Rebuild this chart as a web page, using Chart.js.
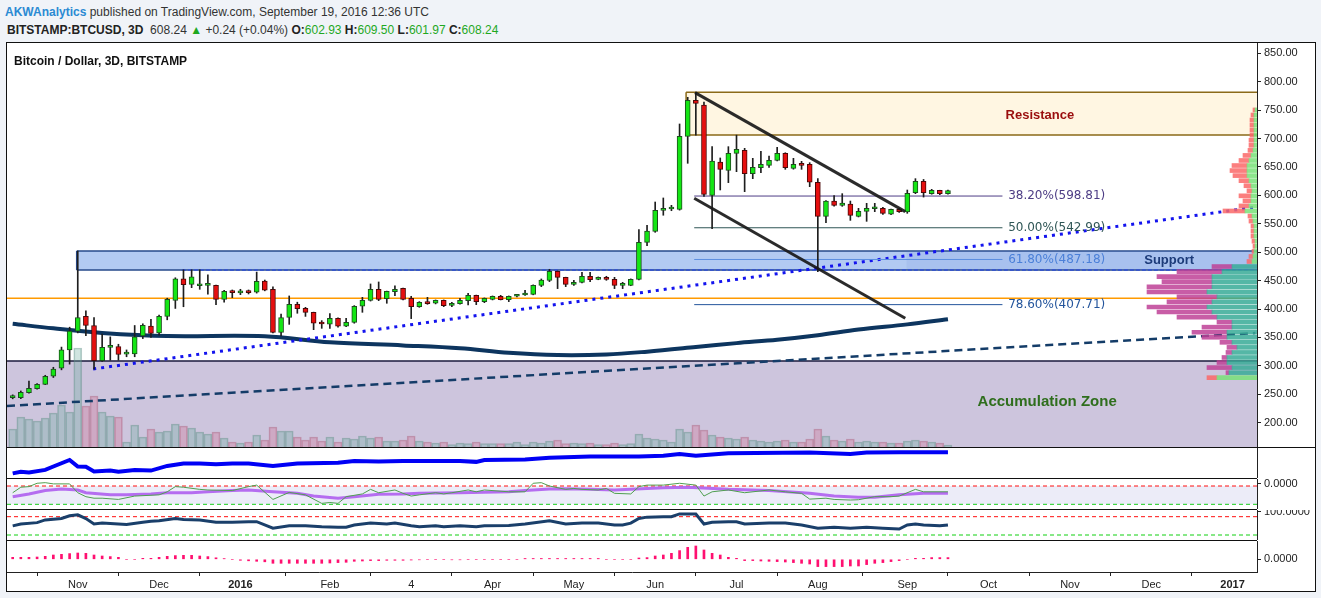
<!DOCTYPE html>
<html>
<head>
<meta charset="utf-8">
<script src="https://cdn.jsdelivr.net/npm/chart.js@4/dist/chart.umd.min.js"></script>
<style>
  body { margin: 0; width: 1321px; height: 598px; overflow: hidden; background: #f0f3f8; font-family: "Liberation Sans", Arial, sans-serif; }
  #frame { position: absolute; left: 6px; top: 42px; width: 1310px; height: 550px; box-sizing: border-box; border: 1px solid #111; background: #fff; }
  canvas { position: absolute; display: block; }
  .sep { position: absolute; left: 7px; height: 1px; background: #111; }
  .hdr { position: absolute; white-space: nowrap; font-size: 12px; color: #333; }
  .hdr b { color: #222; }
  .author { color: #2b8ad3 !important; }
  .g { color: #1fa81f; }
  #title { position: absolute; left: 14px; top: 54px; font-size: 12px; font-weight: bold; color: #111; white-space: nowrap; }
</style>
</head>
<body>
<div id="frame"></div>
<div class="hdr" id="h1" style="left:5px;top:5px"><b class="author">AKWAnalytics</b> published on TradingView.com, September 19, 2016 12:36 UTC</div>
<div class="hdr" id="h2" style="left:7px;top:23px"></div>

<canvas id="main" width="1308" height="404" style="left:7px;top:43px"></canvas>
<canvas id="vp" width="200" height="404" style="left:1057px;top:43px"></canvas>
<canvas id="p1" width="1308" height="30" style="left:7px;top:448px"></canvas>
<canvas id="p2" width="1308" height="30" style="left:7px;top:479px"></canvas>
<canvas id="p3" width="1308" height="30" style="left:7px;top:510px"></canvas>
<canvas id="p4" width="1308" height="50" style="left:7px;top:541px"></canvas>
<div class="sep" style="top:447px;width:1308px"></div>
<div class="sep" style="top:478px;width:1250px"></div>
<div class="sep" style="top:509px;width:1250px"></div>
<div class="sep" style="top:540px;width:1250px"></div>
<div id="title">Bitcoin / Dollar, 3D, BITSTAMP</div>

<script>
// ---------- data (3D bars, bar 0 = first bar of Nov 2015) ----------
const firstBar = -8;
const open = [244, 244.1, 253, 260, 267.5, 282, 296, 328,
  361, 387, 371, 309, 332.5, 334, 320.5, 321, 352.6, 370,
  358, 387, 415, 453, 443.5, 441, 441.5, 441.7, 417, 431.8,
  428.5, 431.8, 429.5, 449.3, 434.7, 359, 385.4, 408.3, 401, 394,
  376.6, 373.5, 383.7, 369.6, 376.6, 404.8, 415.3, 434.7, 418.3, 430.6,
  436.4, 418.9, 404.2, 411.8, 410.1, 415.3, 406.5, 409.5, 414.8, 424.1,
  413, 417.1, 422.4, 416.5, 422.4, 424.7, 425.9, 441.7, 450.5, 466.4,
  455.8, 443.5, 447, 457.6, 452.3, 455.8, 452.3, 441.7, 441.7, 452.3,
  517.4, 536.7, 573.7, 576, 575.4, 703.9, 767, 759, 600, 658.7,
  644, 674, 679.2, 638.2, 648.8, 652.9, 661.7, 674, 647.6, 654.6,
  654.6, 623, 563.1, 590, 582.4, 584.8, 563.1, 571.9, 576.5, 577.2,
  567, 575.4, 570.7, 604.7, 624.7, 603, 608.8, 602.93];
const high = [249, 255.8, 273, 269, 283.4, 297.5, 333, 368,
  502, 397, 385, 356, 351, 338, 328, 371, 374, 382,
  389.5, 419, 455, 469, 469, 469, 460, 442, 433, 433.5,
  434.7, 433.5, 465, 451, 439, 391, 423, 412, 403, 394.5,
  379.6, 392, 384.5, 383.7, 406, 420.6, 444.1, 447.6, 431.5, 440.6,
  437, 422.4, 413, 420.6, 416, 416, 411.8, 418.9, 427.7, 424.5,
  419.5, 423, 424.1, 423, 425.9, 432.9, 442.5, 452.9, 469.9, 467,
  456, 450.5, 464.6, 464.6, 456.5, 457.6, 455.8, 447, 453, 540,
  547.3, 588.3, 595.4, 582.5, 725.6, 772.5, 780.7, 764.3, 685.7, 665.8,
  685.7, 706, 682.8, 665.2, 677.5, 669.3, 684.5, 675, 665.2, 659.9,
  657.5, 629.4, 591, 599.5, 603, 590, 577.2, 586, 586, 579,
  576, 577, 609.4, 629.4, 628, 610.6, 609, 609.5];
const low = [242, 242.3, 252, 259, 267, 279.5, 293, 303,
  358, 353, 294, 308, 310, 310, 316, 316, 348, 350,
  354, 381, 401, 404, 437.6, 434.7, 426, 407.7, 412, 420,
  425.3, 426.5, 428, 432, 358, 352.6, 373, 392.5, 387, 363.7,
  366, 366, 368, 369, 375, 394.2, 414, 414.7, 410.1, 423.5,
  416, 383.1, 403, 408.3, 409, 404.2, 404.2, 408.5, 407.1, 407.7,
  411.2, 416, 416, 413, 421.2, 424, 425, 439.4, 448.2, 435.9,
  439.4, 441.7, 446, 448.2, 451.5, 450.5, 435.9, 435.9, 441, 451,
  511.5, 535, 565, 573, 574, 656.4, 706, 598, 541.4, 609.5,
  622.4, 641.7, 606.5, 629.4, 640, 649.3, 660.5, 645.8, 646, 645.8,
  615.3, 465.8, 552, 581, 580.7, 556, 562, 554.3, 571.3, 566.6,
  566, 570, 568.4, 603, 597, 602, 601.2, 601.97];
const close = [245.5, 253.5, 260.5, 267.5, 281.6, 294.5, 328, 361,
  385, 371, 309, 332.6, 334, 320, 321.5, 351, 371.4, 357,
  387, 417, 453, 443, 456.5, 442, 442, 417, 431, 428.8,
  431, 428.8, 448.8, 433, 359, 385, 408.3, 400.7, 394, 375,
  373.7, 383.7, 369.6, 376.6, 404.8, 415.3, 434.7, 417.1, 431.2, 434.7,
  417.1, 404.2, 411.8, 409.5, 415.3, 406, 409.5, 415.3, 424.1, 413,
  418.9, 422.4, 416.5, 422.4, 424.7, 426.5, 441.7, 451.1, 466.4, 455.8,
  443.5, 447, 457.6, 451.7, 455.8, 452.3, 441.7, 442.9, 452.3, 517.4,
  537.3, 573.7, 577.2, 577, 703.9, 767.2, 762, 601.8, 660.5, 645.8,
  674, 681, 638.2, 649.3, 654.6, 661.7, 674, 648.8, 654.6, 652.9,
  623, 563.1, 590.1, 582.4, 586.5, 564.8, 571.9, 577.2, 577.2, 568.4,
  575.4, 571.3, 603.6, 624.7, 604.7, 608.8, 603, 608.24];
const volume = [18, 30, 28, 26, 29, 34, 42, 35,
  99, 41, 51, 35, 31, 30, 5, 22, 10, 18,
  15, 16, 23, 21, 19, 15, 13, 15, 9, 5,
  4, 5, 12, 7, 20, 16, 16, 10, 7, 10,
  6, 10, 5, 9, 8, 11, 9, 10, 6, 6,
  7, 11, 6, 5, 4, 5, 2.5, 4, 3.5, 5,
  3.5, 3.5, 3.5, 3.5, 5, 2.5, 5, 4, 6, 7,
  3.5, 4, 3.5, 4, 2.5, 2.5, 4, 2.5, 3.5, 13,
  9, 8, 7, 5, 18, 15, 22, 17, 12, 10,
  9, 8, 10, 7, 6, 5, 6, 7, 5, 5,
  8, 18, 11, 7, 6, 8, 5, 6, 5, 5,
  4, 4, 6, 7, 6, 5, 4, 2];
const macdHist = [2, 2, 2, 2.3, 3, 4.3, 5, 5.7,
  6.3, 6, 4.3, 3.3, 2.7, 2, 0, 0, 1, 1,
  2, 3, 3.7, 4, 4, 3.3, 2.7, 1.5, 0.7, 0,
  -1, -1.5, -2, -2.5, -4, -4, -4, -4, -4, -4,
  -4, -3.7, -3.3, -3, -2, -1.7, -1.3, -1.3, -1, -1,
  -1, -0.7, -0.5, 0, 0, 0, -0.5, -0.5, 0, 0,
  0, 0, 0, 0, 0, 0.8, 0.8, 0.8, 0.8, 0.8,
  0.8, 0.8, 0.8, 0.8, 0.8, 0, 0, 0, 0, 1.3,
  1.7, 3.3, 4.3, 6, 8.7, 12, 13.3, 9.3, 6, 4.3,
  2, 1, -1.3, -1.3, -1.7, -2, -2.3, -2.7, -3.3, -4,
  -4.7, -7.3, -7.3, -7.3, -7.3, -6.7, -6.7, -5.3, -4, -3.3,
  -2.3, -1.3, 0, 1, 1, 1.7, 1.7, 1.7];

const monthTicks = [0, 10, 20, 31, 41, 51, 61, 71, 81, 91, 102, 112, 122, 132, 142];
const monthLabels = ['Nov', 'Dec', '2016', 'Feb', '4', 'Apr', 'May', 'Jun', 'Jul', 'Aug', 'Sep', 'Oct', 'Nov', 'Dec', '2017'];
const priceTicks = [850, 800, 750, 700, 650, 600, 550, 500, 450, 400, 350, 300, 250, 200];

// moving average and drawings, as [bar, price]
const maLine = [[-8, 374], [-3, 366], [3, 358], [11, 352.5], [23, 352], [31, 341.5], [40, 336], [47, 331],
  [53, 323], [59, 319], [65, 320], [70, 325], [76, 333], [81, 340], [86, 346], [91, 354], [96, 364], [102, 373], [107, 382]];
const trendDashed = [[-8.7, 229.5], [144.8, 357.8]];
const trendDotted = [[1.9, 294.5], [144.5, 578.7]];
const channelTop = [[75.9, 780.7], [101.75, 571.3]];
const channelBottom = [[75.8, 594.8], [101.75, 383.7]];
const supportLine = [[12.8, 468.7], [145, 468.7]];
const orangeLine = [[-8.7, 418.9], [145, 418.9]];
const fibRatios = [0.382, 0.5, 0.618, 0.786];
const fibPrices = [598.81, 542.99, 487.18, 407.71];
const fibSpan = [75.8, 113.7];
// zones: [fromBar, toBar, lowPrice, highPrice]
const accumulationZone = [-20, 200, 0, 308.6];
const resistanceZone = [74.8, 200, 706.2, 781.4];
const supportZone = [-0.13, 200, 468.7, 502.1];
const supportOverlay = [101.9, 200, 468.7, 502.1];

// volume profile rows (price, up volume, down volume)
const vpPrice = [780, 770, 760, 750, 740, 730, 720, 710, 700, 690, 680, 670, 660, 650, 640, 630, 620, 610, 600, 590,
  580, 570, 560, 550, 540, 530, 520, 510, 500, 490, 480, 470, 460, 450, 440, 430, 420, 410, 400, 390,
  380, 370, 360, 350, 340, 330, 320, 310, 300, 290, 280, 270, 260, 250];
const vpUp = [2, 3, 3, 3, 3, 3, 3, 3, 4, 6, 8, 10, 10, 10, 8, 6, 5, 6, 6, 8,
  12, 5, 4, 3, 3, 3, 2, 2, 3, 4, 5, 25, 35, 45, 45, 45, 50, 40, 45, 50,
  45, 40, 25, 25, 30, 30, 25, 20, 25, 30, 30, 25, 28, 40];
const vpDown = [2, 3, 4, 4, 4, 4, 5, 5, 5, 8, 10, 15, 17, 14, 10, 7, 5, 12, 8, 10,
  22, 4, 4, 3, 3, 3, 3, 2, 2, 4, 5, 20, 45, 55, 50, 65, 60, 40, 45, 60,
  55, 40, 15, 30, 35, 25, 12, 10, 6, 5, 10, 25, 3, 10];
const vpValueArea = [255, 470];

// indicator panes, as [bar, value]
const pane1Line = [[-8, 16], [-7, 21], [-6, 19], [-4, 27], [-3, 38], [-1, 59], [0, 38], [1, 37], [2, 22], [4, 25], [5, 21],
  [7, 27], [9, 25], [11, 40], [13, 48], [15, 48], [17, 45], [19, 48], [21, 48], [24, 40], [27, 48], [32, 50], [34, 56],
  [37, 54], [40, 56], [47, 56], [49, 53], [50, 59], [55, 61], [58, 66], [63, 70], [69, 70], [72, 73], [74, 78], [76, 73],
  [80, 81], [90, 83], [95, 78], [97, 83], [101, 84], [107, 84]];
const pane2Fast = [[-8, 58], [-7, 76], [-6, 78], [-5, 89], [-4, 91], [-3, 87], [-1, 87], [0, 58], [1, 45], [2, 40], [3, 40],
  [5, 36], [7, 47], [10, 51], [11, 61], [12, 78], [13, 76], [15, 69], [16, 67], [19, 65], [21, 78], [22, 83], [24, 36],
  [26, 59], [28, 51], [30, 23], [31, 26], [32, 23], [33, 45], [35, 54], [36, 69], [37, 58], [39, 67], [40, 56], [41, 47],
  [42, 51], [44, 58], [45, 54], [46, 58], [48, 67], [49, 61], [50, 67], [53, 61], [55, 61], [56, 89], [57, 91], [58, 80],
  [60, 69], [61, 72], [62, 69], [64, 67], [65, 72], [66, 56], [68, 54], [69, 78], [70, 83], [72, 83], [74, 89], [76, 83],
  [77, 47], [78, 61], [80, 67], [82, 58], [85, 67], [87, 61], [89, 56], [90, 37], [92, 40], [93, 36], [95, 34], [96, 35],
  [98, 45], [100, 45], [101, 47], [103, 69], [104, 61], [107, 61]];
const pane2Slow = [[-8, 45], [-6, 54], [-4, 65], [-2, 70], [0, 67], [1, 58], [4, 51], [6, 51], [9, 54], [11, 58], [14, 58],
  [16, 61], [19, 65], [21, 67], [24, 61], [27, 56], [29, 47], [32, 40], [34, 45], [37, 53], [40, 54], [42, 56], [47, 58],
  [53, 61], [55, 65], [58, 70], [60, 71], [63, 69], [66, 67], [68, 69], [70, 72], [72, 74], [75, 76], [80, 69], [85, 65],
  [90, 56], [93, 47], [96, 43], [98, 43], [101, 51], [104, 56], [107, 56]];
const pane2Levels = [80, 20];
const pane3Line = [[-8, 50], [-7, 54], [-5, 57], [-4, 63], [-2, 66], [-1, 72], [0, 74], [1, 66], [2, 54], [3, 56], [5, 54],
  [6, 53], [8, 58], [9, 60], [10, 61], [12, 66], [13, 64], [15, 63], [17, 58], [19, 58], [21, 59], [22, 59], [24, 45],
  [26, 50], [28, 50], [30, 48], [32, 47], [33, 47], [34, 52], [36, 56], [38, 54], [39, 56], [41, 50], [42, 48], [44, 50],
  [45, 48], [47, 50], [49, 48], [50, 50], [53, 51], [55, 54], [58, 61], [60, 54], [62, 56], [64, 56], [66, 52], [67, 52],
  [68, 56], [69, 66], [70, 69], [72, 70], [73, 70], [74, 76], [76, 76], [77, 54], [78, 58], [80, 59], [81, 59], [82, 54],
  [85, 56], [87, 56], [89, 52], [91, 45], [93, 47], [95, 45], [97, 47], [99, 45], [101, 43], [102, 52], [103, 54],
  [104, 52], [106, 50], [107, 52]];
const pane3Levels = [70, 30];
const pane2TickValues = [88.2], pane2TickLabels = ['0.0000'];
const pane3TickValues = [80.9], pane3TickLabels = ['100.0000'];
const pane4TickValues = [0], pane4TickLabels = ['0.0000'];

// ---------- layout / style ----------
const X_MIN = -8.7, X_MAX = 145;
const AXIS_W = 58;
const UP = '#14e614', DOWN = '#e60f0f';
const UP_EDGE = '#1d4d1d', DOWN_EDGE = '#4a0808';
const spots = {
  fibLabelBar: 114.4,
  resistance: [118.3, 741.4],
  support: [134.2, 484.7],
  accumulation: [119.2, 236.4]
};

Chart.defaults.font.family = '"Liberation Sans", Arial, sans-serif';
Chart.defaults.color = '#222';

const bars = open.map((_, i) => firstBar + i);
const isUp = open.map((o, i) => close[i] >= o);
const pts = arr => arr.map(p => ({ x: p[0], y: p[1] }));

// header line 2
const last = open.length - 1;
document.getElementById('h2').innerHTML =
  '<b>BITSTAMP:BTCUSD, 3D</b>&nbsp; ' + close[last].toFixed(2) +
  ' <span class="g">&#9650;</span> +0.24 (+0.04%) ' +
  '<b>O:</b><span class="g">' + open[last].toFixed(2) + '</span> ' +
  '<b>H:</b><span class="g">' + high[last].toFixed(2) + '</span> ' +
  '<b>L:</b><span class="g">' + low[last].toFixed(2) + '</span> ' +
  '<b>C:</b><span class="g">' + close[last].toFixed(2) + '</span>';

function line(data, color, width, order, extra) {
  return Object.assign({
    type: 'line', data: pts(data), borderColor: color, borderWidth: width,
    pointRadius: 0, fill: false, tension: 0, order: order
  }, extra || {});
}

function rightAxis(min, max, values, labels) {
  return {
    position: 'right', min: min, max: max,
    afterBuildTicks: s => { s.ticks = values.map(v => ({ value: v })); },
    afterFit: s => { s.width = AXIS_W; s.paddingTop = 0; s.paddingBottom = 0; },
    ticks: { display: values.length > 0, padding: 3, color: '#222', font: { size: 11 },
             callback: (v, i) => labels[i] },
    grid: { drawOnChartArea: false, tickLength: 4, color: '#222' },
    border: { color: '#222' }
  };
}

const baseOptions = {
  responsive: false, animation: false, devicePixelRatio: 1, events: [],
  layout: { padding: 0 },
  plugins: { legend: { display: false }, tooltip: { enabled: false } }
};

// zones + text drawn through the chart scales
const drawings = {
  id: 'drawings',
  beforeDatasetsDraw(chart) {
    const { ctx, chartArea: a, scales: { x, y } } = chart;
    const box = (z, fill, stroke, sides) => {
      const x0 = x.getPixelForValue(z[0]), x1 = x.getPixelForValue(z[1]);
      const yTop = y.getPixelForValue(z[3]), yBot = y.getPixelForValue(z[2]);
      ctx.fillStyle = fill;
      ctx.fillRect(x0, yTop, x1 - x0, yBot - yTop);
      if (stroke) {
        ctx.strokeStyle = stroke; ctx.lineWidth = 1.5;
        ctx.beginPath();
        if (sides.includes('t')) { ctx.moveTo(x0, yTop); ctx.lineTo(x1, yTop); }
        if (sides.includes('b')) { ctx.moveTo(x0, yBot); ctx.lineTo(x1, yBot); }
        if (sides.includes('l')) { ctx.moveTo(x0, yTop); ctx.lineTo(x0, yBot); }
        ctx.stroke();
      }
    };
    ctx.save();
    ctx.beginPath(); ctx.rect(a.left, a.top, a.right - a.left, a.bottom - a.top); ctx.clip();
    box(accumulationZone, '#cdc5dd', '#1a1a3c', 't');
    box(resistanceZone, 'rgba(255,236,190,0.45)', '#8b6a18', 'tbl');
    box(supportZone, 'rgba(95,145,228,0.48)', '#26498a', 'tbl');
    box(supportOverlay, 'rgba(80,120,210,0.10)', null, '');
    ctx.restore();
  },
  afterDatasetsDraw(chart) {
    const { ctx, scales: { x, y } } = chart;
    ctx.save();
    ctx.textBaseline = 'middle';
    const fibColors = ['#4d3d85', '#2f5656', '#4b80d8', '#24559c'];
    ctx.font = '12px "DejaVu Sans", sans-serif';
    ctx.textAlign = 'left';
    fibPrices.forEach((p, i) => {
      ctx.fillStyle = fibColors[i];
      ctx.fillText((fibRatios[i] * 100).toFixed(2) + '%(' + p.toFixed(2) + ')',
        x.getPixelForValue(spots.fibLabelBar), y.getPixelForValue(p));
    });
    ctx.textAlign = 'center';
    ctx.font = 'bold 13px "Liberation Sans", Arial, sans-serif';
    ctx.fillStyle = '#9a0d0d';
    ctx.fillText('Resistance', x.getPixelForValue(spots.resistance[0]), y.getPixelForValue(spots.resistance[1]));
    ctx.fillStyle = '#1d3c7a';
    ctx.fillText('Support', x.getPixelForValue(spots.support[0]), y.getPixelForValue(spots.support[1]));
    ctx.font = 'bold 15px "Liberation Sans", Arial, sans-serif';
    ctx.fillStyle = '#2f6e1d';
    ctx.fillText('Accumulation Zone', x.getPixelForValue(spots.accumulation[0]), y.getPixelForValue(spots.accumulation[1]));
    ctx.restore();
  }
};

// ---------- main price pane ----------
const fibColorsLine = ['#4d3d85', '#2f5656', '#5b8de0', '#24559c'];
const fibDatasets = fibPrices.map((p, i) =>
  line([[fibSpan[0], p], [fibSpan[1], p]], fibColorsLine[i], 1, 60));

new Chart(document.getElementById('main'), {
  type: 'bar',
  data: {
    datasets: [
      {
        type: 'bar', yAxisID: 'yv', order: 100, grouped: false, barThickness: 8,
        data: bars.map((k, i) => ({ x: k, y: volume[i] })),
        backgroundColor: isUp.map(u => u ? 'rgba(110,175,160,0.32)' : 'rgba(210,105,140,0.30)'),
        borderColor: isUp.map(u => u ? 'rgba(90,140,130,0.45)' : 'rgba(170,90,120,0.45)'),
        borderWidth: 1
      },
      line(maLine, '#0d355f', 4, 90, { tension: 0.35 }),
      line(trendDashed, '#143c68', 2.5, 85, { borderDash: [8, 5] }),
      line(orangeLine, '#ff9a00', 1.5, 80),
      line(supportLine, '#3958c8', 2, 78, { borderDash: [4, 2] }),
      line(trendDotted, '#1414ee', 3, 75, { borderDash: [3, 5] }),
      ...fibDatasets,
      {
        type: 'bar', order: 20, grouped: false, barThickness: 1,
        data: bars.map((k, i) => ({ x: k, y: [low[i], high[i]] })),
        backgroundColor: '#1e1e1e', borderWidth: 0
      },
      {
        type: 'bar', order: 10, grouped: false, barThickness: 5, minBarLength: 2,
        data: bars.map((k, i) => ({ x: k, y: [open[i], close[i]] })),
        backgroundColor: isUp.map(u => u ? UP : DOWN),
        borderColor: isUp.map(u => u ? UP_EDGE : DOWN_EDGE),
        borderWidth: 1, borderSkipped: false
      },
      line(channelTop, 'rgba(25,25,25,0.92)', 3, 5),
      line(channelBottom, 'rgba(25,25,25,0.92)', 3, 5)
    ]
  },
  options: Object.assign({}, baseOptions, {
    scales: {
      x: { type: 'linear', min: X_MIN, max: X_MAX, display: false, offset: false },
      y: rightAxis(157.2, 868.1, priceTicks, priceTicks.map(v => v.toFixed(2))),
      yv: { display: false, min: 0, max: 404 }
    }
  }),
  plugins: [drawings]
});

// ---------- volume profile (visible range) ----------
const inVA = p => p >= vpValueArea[0] && p <= vpValueArea[1];
new Chart(document.getElementById('vp'), {
  type: 'bar',
  data: {
    datasets: [
      { data: vpPrice.map((p, i) => ({ y: p, x: vpUp[i] })), stack: 'v', barThickness: 4,
        backgroundColor: vpPrice.map(p => inVA(p) ? 'rgba(55,170,150,0.85)' : 'rgba(120,225,120,0.85)') },
      { data: vpPrice.map((p, i) => ({ y: p, x: vpDown[i] })), stack: 'v', barThickness: 4,
        backgroundColor: vpPrice.map(p => inVA(p) ? 'rgba(190,65,150,0.85)' : 'rgba(250,105,105,0.85)') }
    ]
  },
  options: Object.assign({}, baseOptions, {
    indexAxis: 'y',
    scales: {
      x: { type: 'linear', reverse: true, min: 0, max: 200, display: false, stacked: true },
      y: { type: 'linear', min: 157.2, max: 868.1, display: false, stacked: true }
    }
  })
});

// ---------- indicator panes ----------
function pane(id, datasets, yMin, yMax, tv, tl, showX) {
  return new Chart(document.getElementById(id), {
    type: 'bar',
    data: { datasets: datasets },
    options: Object.assign({}, baseOptions, {
      scales: {
        x: {
          type: 'linear', min: X_MIN, max: X_MAX, display: showX, offset: false,
          afterBuildTicks: s => { s.ticks = monthTicks.map(v => ({ value: v })); },
          afterFit: s => { if (showX) s.height = 19; s.paddingLeft = 0; s.paddingRight = 0; },
          ticks: {
            autoSkip: false, maxRotation: 0, padding: 2, color: '#222',
            font: c => ({ size: 11, weight: /^\d{4}$/.test(monthLabels[c.index]) ? 'bold' : 'normal' }),
            callback: (v, i) => monthLabels[i]
          },
          grid: { drawOnChartArea: false, tickLength: 4, color: '#222' },
          border: { color: '#222' }
        },
        y: rightAxis(yMin, yMax, tv, tl)
      }
    })
  });
}

const fullWidth = v => [[X_MIN, v], [X_MAX, v]];

pane('p1', [line(pane1Line, '#0000f5', 4, 1)], 1, 97.7, [], [], false);

pane('p2', [
  line(fullWidth(pane2Levels[0]), '#ff1010', 1, 5, { borderDash: [4, 3], fill: '+1', backgroundColor: 'rgba(150,150,215,0.18)' }),
  line(fullWidth(pane2Levels[1]), '#10d010', 1, 6, { borderDash: [4, 3] }),
  line(pane2Slow, 'rgba(175,95,240,0.9)', 3, 2),
  line(pane2Fast, '#4f9f4f', 1, 1)
], 4.6, 103, pane2TickValues, pane2TickLabels, false);

pane('p3', [
  line(fullWidth(pane3Levels[0]), '#ff1010', 1, 5, { borderDash: [4, 3] }),
  line(fullWidth(pane3Levels[1]), '#10d010', 1, 6, { borderDash: [4, 3] }),
  line(pane3Line, '#1a3f6a', 3, 1)
], 19.1, 84.6, pane3TickValues, pane3TickLabels, false);

pane('p4', [
  { type: 'bar', barThickness: 2, grouped: false,
    data: bars.map((k, i) => ({ x: k, y: macdHist[i] })), backgroundColor: '#ff1070' }
], -12.7, 18.3, pane4TickValues, pane4TickLabels, true);
</script>
</body>
</html>
